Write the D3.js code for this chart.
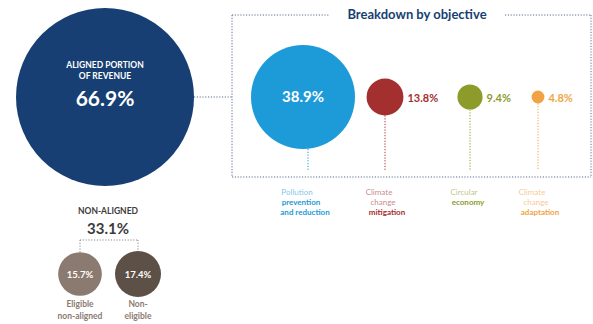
<!DOCTYPE html>
<html>
<head>
<meta charset="UTF-8">
<title>Taxonomy breakdown</title>
<script src="https://cdn.jsdelivr.net/npm/d3@7/dist/d3.min.js"></script>
<style>
  body { margin: 0; background: #fff; }
  svg { display: block; font-family: Lato, "Open Sans", sans-serif; }
</style>
</head>
<body>
<script>
// 数据
var alignedLabel = ["ALIGNED PORTION", "OF REVENUE"];
var alignedValue = 66.9;
var objectives = ["Pollution prevention and reduction", "Climate change mitigation", "Circular economy", "Climate change adaptation"];
var objectiveValues = [38.9, 13.8, 9.4, 4.8];
var objectiveColors = ["#1d9ad8", "#a3302f", "#8d9b2b", "#f1a343"];
var objectiveLines = [["Pollution", "prevention", "and reduction"], ["Climate", "change", "mitigation"], ["Circular", "economy"], ["Climate", "change", "adaptation"]];
var objectiveBold = [1, 2, 1, 2]; // 从第几行开始加粗
var nonAlignedValue = 33.1;
var nonAligned = ["Eligible non-aligned", "Non-eligible"];
var nonAlignedValues = [15.7, 17.4];
var nonAlignedColors = ["#8b7a6f", "#5d5047"];
var nonAlignedLines = [["Eligible", "non-aligned"], ["Non-", "eligible"]];

var width = 593, height = 324;
var svg = d3.select("body").append("svg").attr("width", width).attr("height", height);

var navy = "#173f73";

// 大圆
var big = { x: 105, y: 97, r: 89 };
svg.append("circle").attr("cx", big.x).attr("cy", big.y).attr("r", big.r).attr("fill", navy);
svg.selectAll(".al").data(alignedLabel).enter().append("text")
  .attr("x", big.x).attr("y", function (d, i) { return 68 + i * 11; })
  .attr("text-anchor", "middle").attr("fill", "#fff")
  .style("font-size", "8.5px").style("font-weight", "bold").text(function (d) { return d; });
svg.append("text").attr("x", big.x).attr("y", 106).attr("text-anchor", "middle")
  .attr("fill", "#fff").style("font-size", "21px").style("font-weight", "bold")
  .text(alignedValue + "%");

// 虚线框
var dot = "1.2,1.6";
var box = { l: 232, t: 15, r: 591, b: 177 };
var dotted = function (x1, y1, x2, y2, c) {
  svg.append("line").attr("x1", x1).attr("y1", y1).attr("x2", x2).attr("y2", y2)
    .attr("stroke", c || "#5a6f8f").attr("stroke-width", 1).attr("stroke-dasharray", dot);
};
dotted(big.x + big.r, big.y, box.l, big.y);
dotted(box.l, box.t, 330, box.t);
dotted(505, box.t, box.r, box.t);
dotted(box.l, box.t, box.l, box.b);
dotted(box.r, box.t, box.r, box.b);
dotted(box.l, box.b, box.r, box.b);
svg.append("text").attr("x", 417).attr("y", 19).attr("text-anchor", "middle")
  .attr("fill", navy).style("font-size", "13px").style("font-weight", "bold")
  .text("Breakdown by objective");

// 分目标圆
var rObj = d3.scaleLinear().domain([0, d3.max(objectiveValues)]).range([0, 52]);
var xPos = [303, 385, 470, 538];
var cy = 97;
var obj = svg.selectAll(".obj").data(objectives).enter().append("g")
  .attr("transform", function (d, i) { return "translate(" + xPos[i] + "," + cy + ")"; });
obj.append("line").attr("x1", function (d, i) { return i === 0 ? 5 : 0; })
  .attr("x2", function (d, i) { return i === 0 ? 5 : 0; })
  .attr("y1", function (d, i) { return rObj(objectiveValues[i]); }).attr("y2", 73)
  .attr("stroke", function (d, i) { return objectiveColors[i]; })
  .attr("stroke-dasharray", dot).attr("stroke-width", 1);
obj.append("circle").attr("r", function (d, i) { return rObj(objectiveValues[i]); })
  .attr("fill", function (d, i) { return objectiveColors[i]; });
obj.append("text")
  .attr("x", function (d, i) { return i === 0 ? 0 : rObj(objectiveValues[i]) + 4; })
  .attr("y", 5)
  .attr("text-anchor", function (d, i) { return i === 0 ? "middle" : "start"; })
  .attr("fill", function (d, i) { return i === 0 ? "#fff" : objectiveColors[i]; })
  .style("font-size", function (d, i) { return i === 0 ? "15px" : "11px"; })
  .style("font-weight", "bold")
  .text(function (d, i) { return objectiveValues[i] + "%"; });

// 框下标签, 每行略向右错开
obj.each(function (d, i) {
  var g = d3.select(this).append("g").attr("transform", "translate(-6,98)");
  objectiveLines[i].forEach(function (line, j) {
    g.append("text").attr("x", j * 4).attr("y", j * 10)
      .attr("text-anchor", "middle").style("font-size", "8px")
      .attr("fill", objectiveColors[i])
      .attr("fill-opacity", j < objectiveBold[i] ? 0.6 : 1)
      .style("font-weight", j < objectiveBold[i] ? "normal" : "bold")
      .text(line);
  });
});

// 非对齐部分
var naX = 108;
svg.append("text").attr("x", naX).attr("y", 214).attr("text-anchor", "middle")
  .attr("fill", "#3b3b3b").style("font-size", "8.5px").style("font-weight", "bold").text("NON-ALIGNED");
svg.append("text").attr("x", naX).attr("y", 234).attr("text-anchor", "middle")
  .attr("fill", "#3b3b3b").style("font-size", "15px").style("font-weight", "bold").text(nonAlignedValue + "%");

var rNa = d3.scaleSqrt().domain([0, d3.max(nonAlignedValues)]).range([0, 23]);
var naPos = [80, 138];
var naY = 274;
dotted(naPos[0], 240, naPos[1], 240, "#888");
naPos.forEach(function (x, i) { dotted(x, 240, x, naY - rNa(nonAlignedValues[i]), "#888"); });

var na = svg.selectAll(".na").data(nonAligned).enter().append("g")
  .attr("transform", function (d, i) { return "translate(" + naPos[i] + "," + naY + ")"; });
na.append("circle").attr("r", function (d, i) { return rNa(nonAlignedValues[i]); })
  .attr("fill", function (d, i) { return nonAlignedColors[i]; });
na.append("text").attr("y", 3.5).attr("text-anchor", "middle").attr("fill", "#fff")
  .style("font-size", "9.5px").style("font-weight", "bold")
  .text(function (d, i) { return nonAlignedValues[i] + "%"; });
na.each(function (d, i) {
  var t = d3.select(this).append("text").attr("y", 33).attr("text-anchor", "middle")
    .attr("fill", "#8a7b70").style("font-size", "8.5px").style("font-weight", "bold");
  nonAlignedLines[i].forEach(function (line, j) {
    t.append("tspan").attr("x", 0).attr("dy", j === 0 ? 0 : 12).text(line);
  });
});
</script>
</body>
</html>
